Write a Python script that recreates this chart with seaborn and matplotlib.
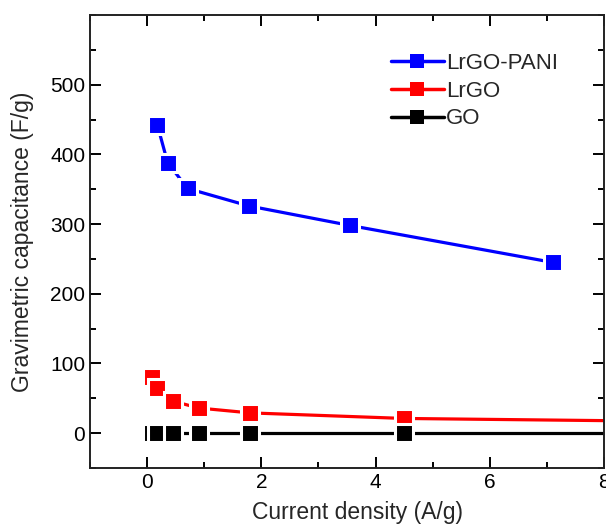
import numpy as np
import pandas as pd
import seaborn as sns
import matplotlib.pyplot as plt
from matplotlib.ticker import MultipleLocator

# values
pani_x = [0.18, 0.36, 0.71, 1.78, 3.55, 7.1]
pani_y = [442, 388, 351, 326, 298, 245]
lrgo_x = [0.09, 0.18, 0.45, 0.9, 1.8, 4.5, 9.0]
lrgo_y = [81, 64, 46, 36, 29, 21, 17]
go_x = [0.09, 0.18, 0.45, 0.9, 1.8, 4.5, 9.0]
go_y = [0, 0, 0, 0, 0, 0, 0]
names = ['LrGO-PANI', 'LrGO', 'GO']
colors = ['#0000ff', '#ff0000', '#000000']

df = pd.concat([
    pd.DataFrame({'x': pani_x, 'y': pani_y, 'sample': names[0]}),
    pd.DataFrame({'x': lrgo_x, 'y': lrgo_y, 'sample': names[1]}),
    pd.DataFrame({'x': go_x, 'y': go_y, 'sample': names[2]}),
])

sns.set_style('ticks')
plt.rcParams['font.family'] = ['Liberation Sans', 'DejaVu Sans']

fig, ax = plt.subplots(figsize=(6.06, 5.24), dpi=100)
fig.subplots_adjust(left=0.1485, right=0.9967, top=0.9714, bottom=0.107)

sns.lineplot(data=df, x='x', y='y', hue='sample', hue_order=names,
             palette=dict(zip(names, colors)), marker='s', markersize=13,
             markeredgecolor='white', markeredgewidth=2.2, linewidth=2.3,
             sort=False, ax=ax)

ax.set_xlim(-1, 8)
ax.set_ylim(-50, 600)
ax.xaxis.set_major_locator(MultipleLocator(2))
ax.xaxis.set_minor_locator(MultipleLocator(1))
ax.yaxis.set_major_locator(MultipleLocator(100))
ax.yaxis.set_minor_locator(MultipleLocator(50))
ax.set_yticks([0, 100, 200, 300, 400, 500])
ax.tick_params(which='both', direction='in', top=True, right=True,
               width=1.4, labelsize=15, colors='black')
ax.tick_params(which='major', length=8)
ax.tick_params(which='minor', length=4.5)
for s in ax.spines.values():
    s.set_linewidth(1.4)
    s.set_color('#222222')

ax.set_xlabel('Current density (A/g)', fontsize=16.5)
ax.set_ylabel('Gravimetric capacitance (F/g)', fontsize=16.5)
ax.xaxis.set_label_coords(0.52, -0.072)
ax.yaxis.set_label_coords(-0.108, 0.5)

leg = ax.legend(loc='upper right', bbox_to_anchor=(0.95, 0.96), frameon=False,
                fontsize=16, handlelength=2.4, handletextpad=0.1,
                labelspacing=0.3)
for h in leg.legend_handles:
    h.set_markersize(10)
    h.set_markeredgewidth(0)
    h.set_linewidth(2.5)

plt.savefig('out.png', dpi=100)
